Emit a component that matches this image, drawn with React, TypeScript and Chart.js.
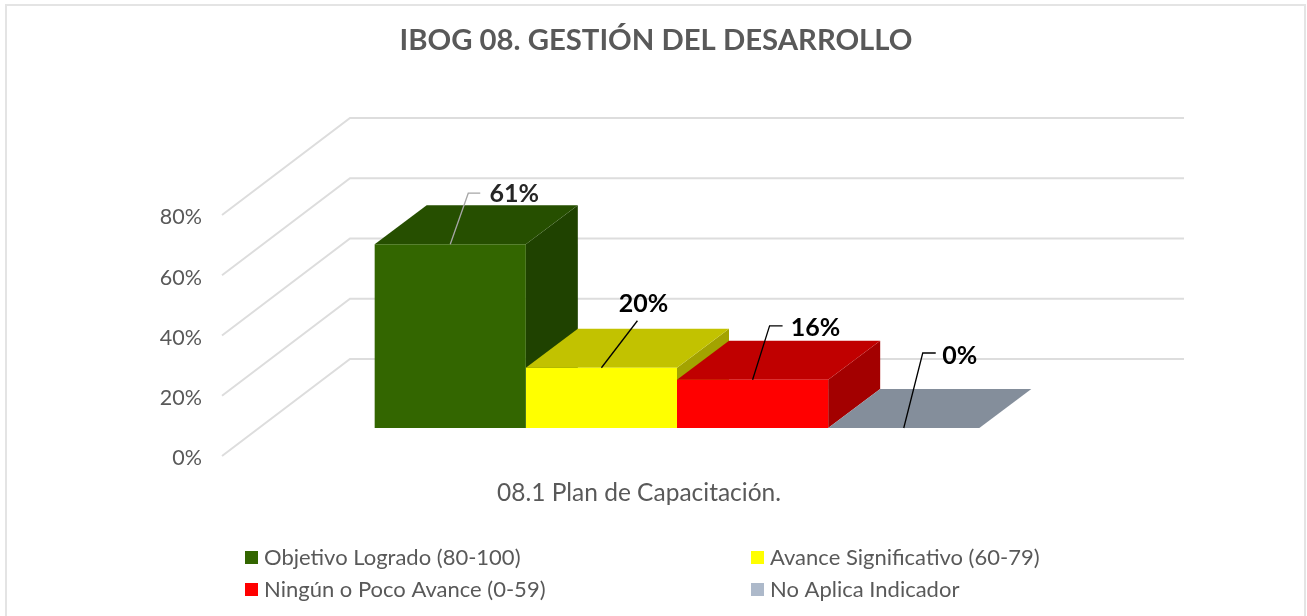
import React, { useEffect, useRef } from "react";
import { Chart, registerables } from "chart.js";

Chart.register(...registerables);

const categories = ["08.1 Plan de Capacitación."];
const seriesNames = [
  "Objetivo Logrado (80-100)",
  "Avance Significativo (60-79)",
  "Ningún o Poco Avance (0-59)",
  "No Aplica Indicador",
];
const objetivoValues = [61];
const avanceValues = [20];
const ningunValues = [16];
const noAplicaValues = [0];
const titleText = "IBOG 08. GESTIÓN DEL DESARROLLO";

const frontColors = ["#336600", "#FFFF00", "#FF0000", "#ADB9CA"];
const topColors = ["#264F00", "#C2C200", "#C00000", "#848E9B"];
const sideColors = ["#1F4200", "#A3A300", "#A30000", "#6E7785"];
const leaderColors = ["#A6A6A6", "#000000", "#000000", "#000000"];
const labelColors = ["#262626", "#000000", "#000000", "#000000"];
// leader elbow relative to the bar's top centre, and label centre relative to it
const elbows = [[18, -51], [36, -47], [17, -54], [19, -75]];
const elbowEnds = [[30, -51], [36, -47], [30, -54], [32, -75]];
const labelCentres = [[64, -50], [42, -64], [63, -52], [56, -72]];
const legendSlots = [[245, 557], [751, 557], [245, 589], [751, 589]];

const GRID = "#DDDDDD";
const FRAME = "#E4E4E4";
const TEXT = "#595959";
const FONT = "Lato";
const WALL_DX = 128;
const WALL_DY = -97;
const BAR_DX = 38;
const BAR_DY = -28;
const DEPTH_DX = 52;
const DEPTH_DY = -39;
const WALL_RIGHT = 1184;

const scene = {
  id: "scene",
  beforeDraw(chart: any) {
    const { ctx, width, height } = chart;
    ctx.save();
    ctx.strokeStyle = FRAME;
    ctx.lineWidth = 2;
    ctx.beginPath();
    ctx.moveTo(6, height);
    ctx.lineTo(6, 5);
    ctx.lineTo(width - 2, 5);
    ctx.lineTo(width - 2, height);
    ctx.stroke();
    ctx.restore();
  },
  beforeDatasetsDraw(chart: any) {
    const { ctx } = chart;
    const y = chart.scales.y;
    const x0 = chart.chartArea.left;
    ctx.save();
    ctx.strokeStyle = GRID;
    ctx.lineWidth = 2;
    y.ticks.forEach((t: any) => {
      const py = y.getPixelForValue(t.value);
      ctx.beginPath();
      ctx.moveTo(x0, py);
      ctx.lineTo(x0 + WALL_DX, py + WALL_DY);
      ctx.lineTo(WALL_RIGHT, py + WALL_DY);
      ctx.stroke();
    });
    chart.data.datasets.forEach((_: any, i: number) => {
      const bar = chart.getDatasetMeta(i).data[0] as any;
      const l = bar.x - bar.width / 2 + BAR_DX;
      const r = bar.x + bar.width / 2 + BAR_DX;
      const t = bar.y + BAR_DY;
      const b = bar.base + BAR_DY;
      ctx.fillStyle = sideColors[i];
      ctx.beginPath();
      ctx.moveTo(r, t);
      ctx.lineTo(r + DEPTH_DX, t + DEPTH_DY);
      ctx.lineTo(r + DEPTH_DX, b + DEPTH_DY);
      ctx.lineTo(r, b);
      ctx.closePath();
      ctx.fill();
      ctx.fillStyle = topColors[i];
      ctx.beginPath();
      ctx.moveTo(l, t);
      ctx.lineTo(l + DEPTH_DX, t + DEPTH_DY);
      ctx.lineTo(r + DEPTH_DX, t + DEPTH_DY);
      ctx.lineTo(r, t);
      ctx.closePath();
      ctx.fill();
    });
    ctx.restore();
    ctx.save();
    ctx.translate(BAR_DX, BAR_DY);
  },
  afterDatasetsDraw(chart: any) {
    const { ctx } = chart;
    ctx.restore();
    ctx.save();
    chart.data.datasets.forEach((ds: any, i: number) => {
      const bar = chart.getDatasetMeta(i).data[0] as any;
      const ax = bar.x + BAR_DX;
      const ay = bar.y + BAR_DY;
      ctx.strokeStyle = leaderColors[i];
      ctx.lineWidth = 1.3;
      ctx.beginPath();
      ctx.moveTo(ax, ay);
      ctx.lineTo(ax + elbows[i][0], ay + elbows[i][1]);
      ctx.lineTo(ax + elbowEnds[i][0], ay + elbowEnds[i][1]);
      ctx.stroke();
      ctx.fillStyle = labelColors[i];
      ctx.font = `bold 25px ${FONT}`;
      ctx.textAlign = "center";
      ctx.textBaseline = "middle";
      ctx.fillText(`${ds.data[0]}%`, ax + labelCentres[i][0], ay + labelCentres[i][1]);
    });
    ctx.font = `22px ${FONT}`;
    ctx.textAlign = "left";
    ctx.textBaseline = "middle";
    chart.data.datasets.forEach((ds: any, i: number) => {
      const [sx, sy] = legendSlots[i];
      ctx.fillStyle = ds.backgroundColor;
      ctx.fillRect(sx, sy - 6, 13, 13);
      ctx.fillStyle = TEXT;
      ctx.fillText(ds.label, sx + 19, sy + 1);
    });
    ctx.restore();
  },
};

export default function App() {
  const ref = useRef<HTMLCanvasElement | null>(null);
  useEffect(() => {
    document.body.style.margin = "0";
    document.body.style.background = "#fff";
    const series = [objetivoValues, avanceValues, ningunValues, noAplicaValues];
    const chart = new Chart(ref.current as HTMLCanvasElement, {
      type: "bar",
      data: {
        labels: categories,
        datasets: series.map((data, i) => ({
          label: seriesNames[i],
          data,
          backgroundColor: frontColors[i],
          borderWidth: 0,
          clip: false as any,
          categoryPercentage: 0.725,
          barPercentage: 1,
        })),
      },
      plugins: [scene],
      options: {
        responsive: false,
        animation: false,
        layout: { padding: { left: 5, right: 0, top: 0, bottom: 0 } },
        plugins: {
          legend: { display: false },
          tooltip: { enabled: false },
          title: {
            display: true,
            text: titleText,
            color: TEXT,
            font: { family: FONT, size: 29.3, weight: "bold", lineHeight: 1.2 },
            padding: { top: 23, bottom: 156.8 },
          },
        },
        scales: {
          x: {
            grid: { display: false },
            border: { display: false },
            ticks: {
              color: TEXT,
              font: { family: FONT, size: 24.5 },
              padding: 14,
              maxRotation: 0,
            },
            afterFit(scale: any) {
              scale.height = 160;
            },
          },
          y: {
            min: 0,
            max: 80,
            grid: { display: false },
            border: { display: false },
            ticks: {
              stepSize: 20,
              color: TEXT,
              font: { family: FONT, size: 21.5 },
              padding: 12,
              labelOffset: 2.5,
              callback: (v: any) => `${v}%`,
            },
            afterFit(scale: any) {
              scale.width = 217;
            },
          },
          spacer: {
            type: "linear",
            position: "right",
            grid: { display: false },
            border: { display: false },
            ticks: { display: false },
            afterFit(scale: any) {
              scale.width = 251;
            },
          },
        },
      } as any,
    });
    return () => chart.destroy();
  }, []);
  return (
    <div style={{ position: "fixed", left: 0, top: 0, width: 1307, height: 616, background: "#fff" }}>
      <canvas ref={ref} width={1307} height={616} style={{ display: "block" }} />
    </div>
  );
}
